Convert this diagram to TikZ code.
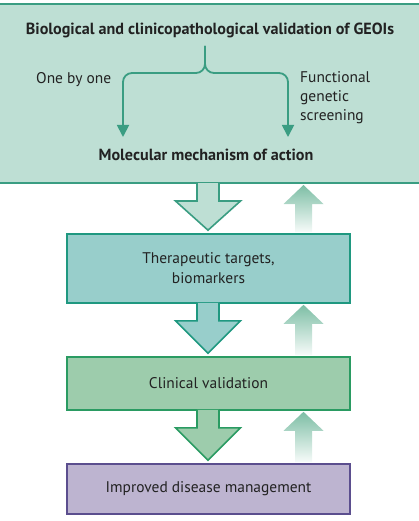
\documentclass[tikz,border=0pt]{standalone}
\usepackage{fontspec}
\setmainfont{PT Sans}
\usetikzlibrary{arrows.meta,calc}
\definecolor{topfill}{HTML}{BEDFD4}
\definecolor{topline}{HTML}{3A9D82}
\definecolor{therfill}{HTML}{98CECB}
\definecolor{therline}{HTML}{1F9880}
\definecolor{clinfill}{HTML}{9DCCAC}
\definecolor{clinline}{HTML}{2A9B62}
\definecolor{mgmtfill}{HTML}{BDB4D0}
\definecolor{mgmtline}{HTML}{5B4E8E}
\definecolor{upcol}{HTML}{7DBEA5}
\definecolor{txt}{HTML}{222222}
\tikzset{
  box/.style={draw,line width=1.6bp,minimum width=283bp,inner sep=0pt,
    text=txt,font=\fontsize{15.5}{20}\selectfont,align=center},
  bold/.style={text=txt,font=\fontsize{16.2}{20}\selectfont\bfseries},
  plain/.style={text=txt,font=\fontsize{15.5}{19.5}\selectfont,inner sep=0pt},
  bracket/.style={draw=topline,line width=1.8bp,rounded corners=9bp,
    -{Triangle[width=12bp,length=12bp]}},
}
\begin{document}
\begin{tikzpicture}[x=1bp,y=-1bp]
\useasboundingbox (0,0) rectangle (418,521);
% boxes
\node[draw=topline,line width=2bp,fill=topfill,inner sep=0pt,minimum width=424bp,minimum height=179bp] (valid) at (209,93.5) {};
\node[box,draw=therline,fill=therfill,minimum height=69bp] (thera) at (208.5,268.5) {Therapeutic targets,\\biomarkers};
\node[box,draw=clinline,fill=clinfill,minimum height=53bp] (clin) at (208.5,383.5) {Clinical validation};
\node[box,draw=mgmtline,fill=mgmtfill,minimum height=50bp] (mgmt) at (208.5,489) {Improved disease management};
% texts in the top box
\node[bold] (geoi) at (210,30) {Biological and clinicopathological validation of GEOIs};
\node[plain,anchor=west] (onebyone) at (36,80) {One by one};
\node[plain,anchor=north west,align=left] (screen) at (300,71) {Functional\\genetic\\screening};
\node[bold] (moa) at (206,155) {Molecular mechanism of action};
% split bracket
\coordinate (split) at (205,46);
\coordinate (leftend) at (123,137);
\coordinate (rightend) at (288,137);
\draw[bracket] (split) |- (leftend |- 0,73) -- (leftend);
\draw[bracket] (split) |- (rightend |- 0,73) -- (rightend);
% down block arrows
\foreach \a/\b/\f/\l in {valid/thera/topfill/topline,thera/clin/therfill/therline,clin/mgmt/clinfill/clinline}{
  \filldraw[fill=\f,draw=\l,line width=1.6bp,line join=miter]
    ($(\a.south -| 208,0)+(-11,-1)$) -- ++(0,18) -- ++(-21.5,0)
    -- ($(\b.north -| 208,0)+(0,-3)$)
    -- ($(\a.south -| 208,0)+(32.5,17)$) -- ++(-21.5,0) -- ++(0,-18);
}
% up shaded arrows
\foreach \a/\b in {thera/valid,clin/thera,mgmt/clin}{
  \shade[top color=upcol,bottom color=upcol!6]
    ($(\a.north -| 303.5,0)+(-8.5,-1)$) -- ($(\b.south -| 303.5,0)+(-8.5,20)$)
    -- ++(-11.5,0) -- ($(\b.south -| 303.5,0)+(0,1)$) -- ($(\b.south -| 303.5,0)+(20,20)$)
    -- ++(-11.5,0) -- ($(\a.north -| 303.5,0)+(8.5,-1)$) -- cycle;
}
\end{tikzpicture}
\end{document}
